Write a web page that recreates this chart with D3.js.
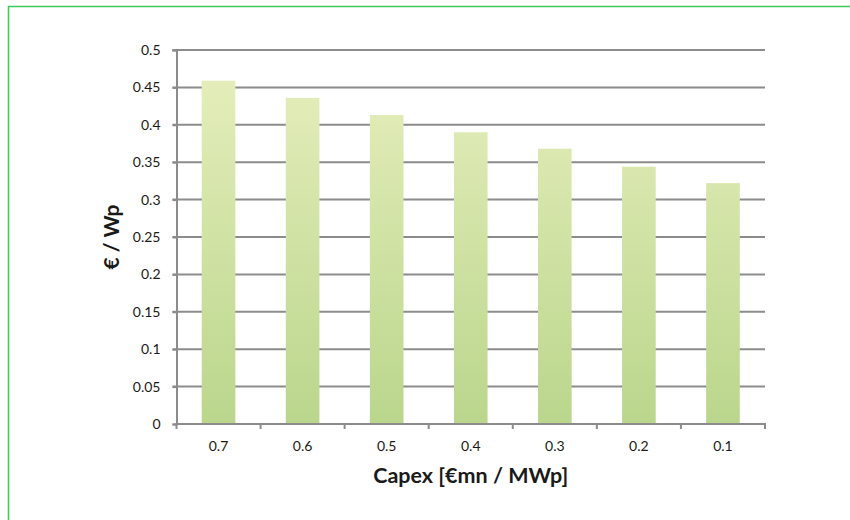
<!DOCTYPE html>
<html>
<head>
<meta charset="utf-8">
<script src="https://cdn.jsdelivr.net/npm/d3@7"></script>
<style>
  html, body { margin: 0; padding: 0; background: #fff; }
  svg { display: block; }
  text { font-family: Lato, "Open Sans", sans-serif; fill: #1a1a1a; }
</style>
</head>
<body>
<svg id="chart" width="850" height="520"></svg>
<script>
// Capex per MWp (category labels) and resulting cost per Wp
const categories = ["0.7", "0.6", "0.5", "0.4", "0.3", "0.2", "0.1"];
const values = [0.459, 0.436, 0.413, 0.390, 0.368, 0.344, 0.322];
const yTicks = [0, 0.05, 0.1, 0.15, 0.2, 0.25, 0.3, 0.35, 0.4, 0.45, 0.5];
const yTickLabels = ["0", "0.05", "0.1", "0.15", "0.2", "0.25", "0.3", "0.35", "0.4", "0.45", "0.5"];
const xTitle = "Capex [€mn / MWp]";
const yTitle = "€ / Wp";

const svg = d3.select("#chart");

// outer frame
svg.append("rect")
  .attr("x", 8.5).attr("y", 6.5)
  .attr("width", 900).attr("height", 600)
  .attr("fill", "none")
  .attr("stroke", "#3cc85a")
  .attr("stroke-width", 1.5);

const plot = { left: 176.5, right: 765, top: 50, bottom: 424 };

const x = d3.scaleBand()
  .domain(categories)
  .range([plot.left, plot.right])
  .paddingInner(0.6)
  .paddingOuter(0.3);

const y = d3.scaleLinear()
  .domain([0, 0.5])
  .range([plot.bottom, plot.top]);

// bar gradient
const defs = svg.append("defs");
const grad = defs.append("linearGradient")
  .attr("id", "barGrad")
  .attr("gradientUnits", "userSpaceOnUse")
  .attr("x1", 0).attr("y1", y(0.46))
  .attr("x2", 0).attr("y2", y(0));
grad.append("stop").attr("offset", "0%").attr("stop-color", "#e4edba");
grad.append("stop").attr("offset", "100%").attr("stop-color", "#bad68c");

// horizontal gridlines
svg.append("g")
  .selectAll("line")
  .data(yTicks.filter(d => d > 0))
  .join("line")
  .attr("x1", plot.left - 4)
  .attr("x2", plot.right)
  .attr("y1", d => y(d))
  .attr("y2", d => y(d))
  .attr("stroke", "#8c8c8c")
  .attr("stroke-width", 2);

// bars
svg.append("g")
  .selectAll("rect")
  .data(values)
  .join("rect")
  .attr("x", (d, i) => x(categories[i]))
  .attr("width", x.bandwidth())
  .attr("y", d => y(d))
  .attr("height", d => y(0) - y(d))
  .attr("fill", "url(#barGrad)");

// y axis
const yAxis = d3.axisLeft(y)
  .tickValues(yTicks)
  .tickFormat((d, i) => yTickLabels[i])
  .tickSize(4)
  .tickPadding(12);
const gy = svg.append("g")
  .attr("transform", `translate(${plot.left},0)`)
  .call(yAxis);
gy.select(".domain").attr("stroke", "#8c8c8c").attr("stroke-width", 2);
gy.selectAll(".tick line").attr("stroke", "#8c8c8c").attr("stroke-width", 2);
gy.selectAll(".tick text")
  .style("font-size", "14px")
  .attr("fill", "#1a1a1a");

// x axis: baseline with ticks at category boundaries
const gx = svg.append("g");
gx.append("line")
  .attr("x1", plot.left - 1).attr("x2", plot.right + 1)
  .attr("y1", plot.bottom).attr("y2", plot.bottom)
  .attr("stroke", "#8c8c8c").attr("stroke-width", 2);
const boundaries = d3.range(categories.length + 1).map(i => plot.left + i * (plot.right - plot.left) / categories.length);
gx.selectAll("line.tk")
  .data(boundaries)
  .join("line")
  .attr("class", "tk")
  .attr("x1", d => d).attr("x2", d => d)
  .attr("y1", plot.bottom).attr("y2", plot.bottom + 5)
  .attr("stroke", "#8c8c8c").attr("stroke-width", 2);
gx.selectAll("text")
  .data(categories)
  .join("text")
  .attr("x", d => x(d) + x.bandwidth() / 2)
  .attr("y", plot.bottom + 27)
  .attr("text-anchor", "middle")
  .style("font-size", "14px")
  .text(d => d);

// axis titles
svg.append("text")
  .attr("x", (plot.left + plot.right) / 2)
  .attr("y", 483)
  .attr("text-anchor", "middle")
  .style("font-size", "21.5px")
  .style("font-weight", "bold")
  .text(xTitle);

svg.append("text")
  .attr("transform", `translate(119,${(plot.top + plot.bottom) / 2}) rotate(-90)`)
  .attr("text-anchor", "middle")
  .style("font-size", "21px")
  .style("font-weight", "bold")
  .text(yTitle);
</script>
</body>
</html>
